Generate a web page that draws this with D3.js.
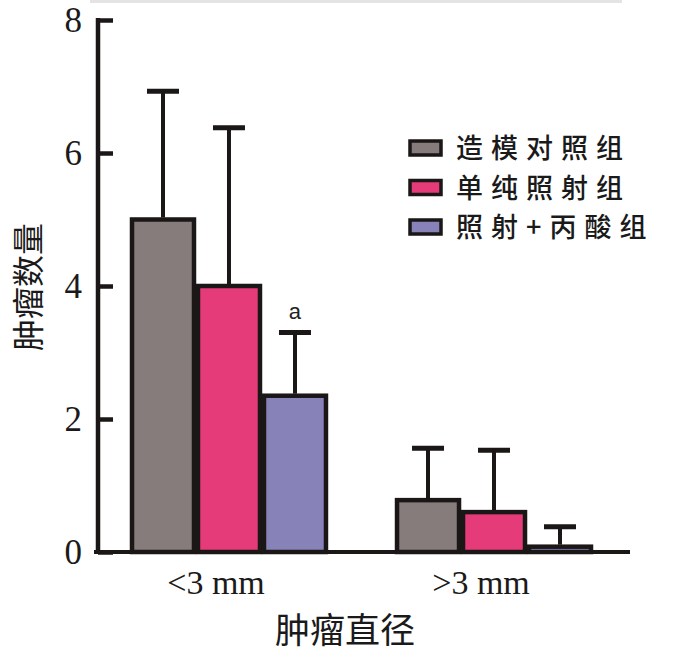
<!DOCTYPE html>
<html>
<head>
<meta charset="utf-8">
<script src="https://cdnjs.cloudflare.com/ajax/libs/d3/7.8.5/d3.min.js"></script>
<style>
  body { margin: 0; background: #fff; }
  svg { display: block; }
</style>
</head>
<body>
<svg id="chart" width="700" height="657"></svg>
<script>
// data
var categories = ["<3 mm", ">3 mm"];
var seriesNames = ["造模对照组", "单纯照射组", "照射+丙酸组"];
var seriesColors = ["#867c7b", "#e63b79", "#8783b9"];
var meanValues = [
    [5.0, 0.78],   // 造模对照组
    [4.0, 0.60],   // 单纯照射组
    [2.35, 0.08]   // 照射+丙酸组
];
var upperValues = [
    [6.93, 1.56],
    [6.38, 1.53],
    [3.3, 0.38]
];
var yTicks = [0, 2, 4, 6, 8];
var marks = [{ series: 2, cat: 0, text: "a" }];

var svg = d3.select("#chart");
var serif = "'Liberation Serif', 'DejaVu Serif', serif";
var cjk = "'Noto Sans CJK SC', 'Noto Sans', sans-serif";

var y = d3.scaleLinear().domain([0, 8]).range([552, 20]);
var x0 = d3.scaleBand().domain(categories).range([130, 593]).paddingInner(0.253).paddingOuter(0);
var x1 = d3.scaleBand().domain(d3.range(seriesNames.length)).range([0, x0.bandwidth()]).padding(0);

// faint crop line at the top
svg.append("line")
    .attr("x1", 90).attr("x2", 622).attr("y1", 1.5).attr("y2", 1.5)
    .attr("stroke", "#e4e4e4").attr("stroke-width", 3);

// bars
var rows = [];
seriesNames.forEach(function(name, s) {
    categories.forEach(function(c, i) {
        rows.push({ s: s, c: c, v: meanValues[s][i], up: upperValues[s][i] });
    });
});

var g = svg.append("g");
g.selectAll("rect.bar").data(rows).enter().append("rect")
    .attr("class", "bar")
    .attr("x", function(d) { return x0(d.c) + x1(d.s) + 2; })
    .attr("width", x1.bandwidth() - 4)
    .attr("y", function(d) { return y(d.v); })
    .attr("height", function(d) { return y(0) - y(d.v); })
    .attr("fill", function(d) { return seriesColors[d.s]; })
    .attr("stroke", "#1a1716")
    .attr("stroke-width", 4.5);

// error bars
var cx = function(d) { return x0(d.c) + x1(d.s) + x1.bandwidth() / 2; };
g.selectAll("line.err").data(rows).enter().append("line")
    .attr("class", "err")
    .attr("x1", cx).attr("x2", cx)
    .attr("y1", function(d) { return y(d.v) - 2; })
    .attr("y2", function(d) { return y(d.up); })
    .attr("stroke", "#1a1716").attr("stroke-width", 4);
g.selectAll("line.cap").data(rows).enter().append("line")
    .attr("class", "cap")
    .attr("x1", function(d) { return cx(d) - 16; })
    .attr("x2", function(d) { return cx(d) + 16; })
    .attr("y1", function(d) { return y(d.up); })
    .attr("y2", function(d) { return y(d.up); })
    .attr("stroke", "#1a1716").attr("stroke-width", 5);

// significance mark
g.selectAll("text.mark").data(marks).enter().append("text")
    .attr("class", "mark")
    .attr("x", function(d) { return x0(categories[d.cat]) + x1(d.series) + x1.bandwidth() / 2; })
    .attr("y", function(d) { return y(upperValues[d.series][d.cat]) - 14; })
    .attr("text-anchor", "middle")
    .attr("font-family", "'Liberation Sans', Arial, sans-serif")
    .attr("font-size", 22)
    .attr("fill", "#222")
    .text(function(d) { return d.text; });

// y axis
var yAxis = svg.append("g")
    .attr("transform", "translate(98,0)")
    .call(d3.axisLeft(y).tickValues(yTicks).tickSizeInner(-15).tickSizeOuter(0).tickPadding(16));
yAxis.select(".domain").attr("stroke", "#1a1716").attr("stroke-width", 4.5)
    .attr("d", "M0," + (y(8) - 2) + "V" + (y(0) + 2));
yAxis.selectAll(".tick line").attr("stroke", "#1a1716").attr("stroke-width", 4.5);
yAxis.selectAll(".tick text")
    .attr("font-family", serif).attr("font-size", 35).attr("fill", "#1a1a1a");

// x axis
var xAxis = svg.append("g")
    .attr("transform", "translate(0," + y(0) + ")")
    .call(d3.axisBottom(x0).tickSize(0).tickPadding(18));
xAxis.select(".domain").attr("stroke", "#1a1716").attr("stroke-width", 4)
    .attr("d", "M94,0H630");
xAxis.selectAll(".tick text")
    .attr("dx", -13)
    .attr("font-family", serif).attr("font-size", 34).attr("fill", "#1a1a1a");

// titles
svg.append("text")
    .attr("transform", "translate(40,287) rotate(-90)")
    .attr("text-anchor", "middle")
    .attr("font-family", cjk).attr("font-size", 32).attr("fill", "#1a1a1a")
    .text("肿瘤数量");
svg.append("text")
    .attr("x", 345).attr("y", 643)
    .attr("text-anchor", "middle")
    .attr("font-family", cjk).attr("font-size", 35).attr("fill", "#1a1a1a")
    .text("肿瘤直径");

// legend
var legend = svg.append("g").attr("transform", "translate(410,148)");
var item = legend.selectAll("g").data(seriesNames).enter().append("g")
    .attr("transform", function(d, i) { return "translate(0," + (i * 39.5) + ")"; });
item.append("rect")
    .attr("x", 0).attr("y", -7).attr("width", 31).attr("height", 14)
    .attr("fill", function(d, i) { return seriesColors[i]; })
    .attr("stroke", "#1a1716").attr("stroke-width", 3.5);
item.append("text")
    .attr("x", 46).attr("y", 10)
    .attr("font-family", cjk).attr("font-size", 27).attr("font-weight", 500)
    .attr("letter-spacing", 8)
    .attr("fill", "#1a1a1a")
    .text(function(d) { return d; });
</script>
</body>
</html>
